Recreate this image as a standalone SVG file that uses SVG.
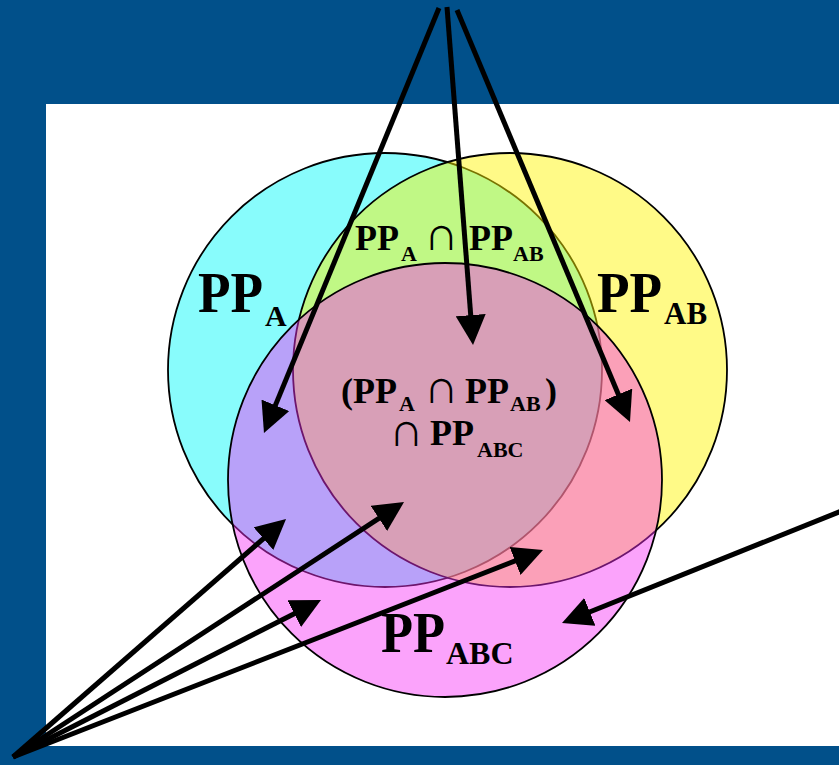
<svg xmlns="http://www.w3.org/2000/svg" width="839" height="765" viewBox="0 0 839 765">
<style>
.t{font-family:"Liberation Serif","DejaVu Serif",serif;font-weight:bold;fill:#000}
.big{font-size:56px}
.mid{font-size:36px}
.sub{font-size:22px}
.cap{font-weight:normal;font-size:48px}
.conn line{stroke:#000;stroke-width:5;marker-end:url(#ah)}
.set{stroke:#000;stroke-width:1.8}
</style>
<defs>
<marker id="ah" markerUnits="userSpaceOnUse" markerWidth="30" markerHeight="30" viewBox="0 0 30 30" refX="5" refY="15" orient="auto">
<path d="M0,0 L30,15 L0,30 z" fill="#000"/>
</marker>
</defs>
<rect x="0" y="0" width="839" height="765" fill="#01508A"/>
<rect x="46" y="104" width="800" height="642" fill="#FFFFFF"/>
<g id="setA"><circle class="set" cx="385" cy="370" r="217" fill="#88FCFC"/></g>
<g id="setAB"><circle class="set" cx="510" cy="370" r="217" fill="#FFF500" fill-opacity="0.47"/></g>
<g id="setABC"><circle class="set" cx="445" cy="480" r="217" fill="#F630F6" fill-opacity="0.445"/></g>
<g id="labelA"><text class="t big" x="198" y="312" textLength="65" lengthAdjust="spacingAndGlyphs">PP</text><text class="t" font-size="30" x="265" y="326">A</text></g>
<g id="labelAB"><text class="t big" x="597" y="312" textLength="65" lengthAdjust="spacingAndGlyphs">PP</text><text class="t" font-size="31" x="664" y="324">AB</text></g>
<g id="labelAiAB"><text class="t mid"><tspan x="355" y="250">PP</tspan><tspan class="sub" x="401" y="261">A</tspan><tspan class="cap" x="424" y="250">∩</tspan><tspan x="469" y="250">PP</tspan><tspan class="sub" x="513" y="261">AB</tspan></text></g>
<g id="labelAll"><text class="t mid"><tspan x="341" y="403">(PP</tspan><tspan class="sub" x="399" y="411">A</tspan><tspan class="cap" x="424" y="403">∩</tspan><tspan x="465" y="403">PP</tspan><tspan class="sub" x="510" y="411">AB</tspan><tspan x="545" y="403">)</tspan><tspan class="cap" font-size="44" x="389" y="446">∩</tspan><tspan x="430" y="445">PP</tspan><tspan class="sub" font-size="23" x="477" y="457">ABC</tspan></text></g>
<g id="labelABC"><text class="t big" x="381" y="652" textLength="64" lengthAdjust="spacingAndGlyphs">PP</text><text class="t" font-size="32" x="446" y="664">ABC</text></g>
<g id="connectors" class="conn">
<line x1="439" y1="8" x2="273.5" y2="409.9"/>
<line x1="447" y1="7" x2="471.1" y2="320.1"/>
<line x1="457" y1="10" x2="620.3" y2="399"/>
<line x1="13" y1="757" x2="267.2" y2="535.4"/>
<line x1="13" y1="757" x2="383.1" y2="515.7"/>
<line x1="13" y1="757" x2="298.7" y2="611.4"/>
<line x1="13" y1="757" x2="519.7" y2="559.1"/>
<line x1="845" y1="509.6" x2="585.2" y2="613.7"/>
</g>
</svg>
